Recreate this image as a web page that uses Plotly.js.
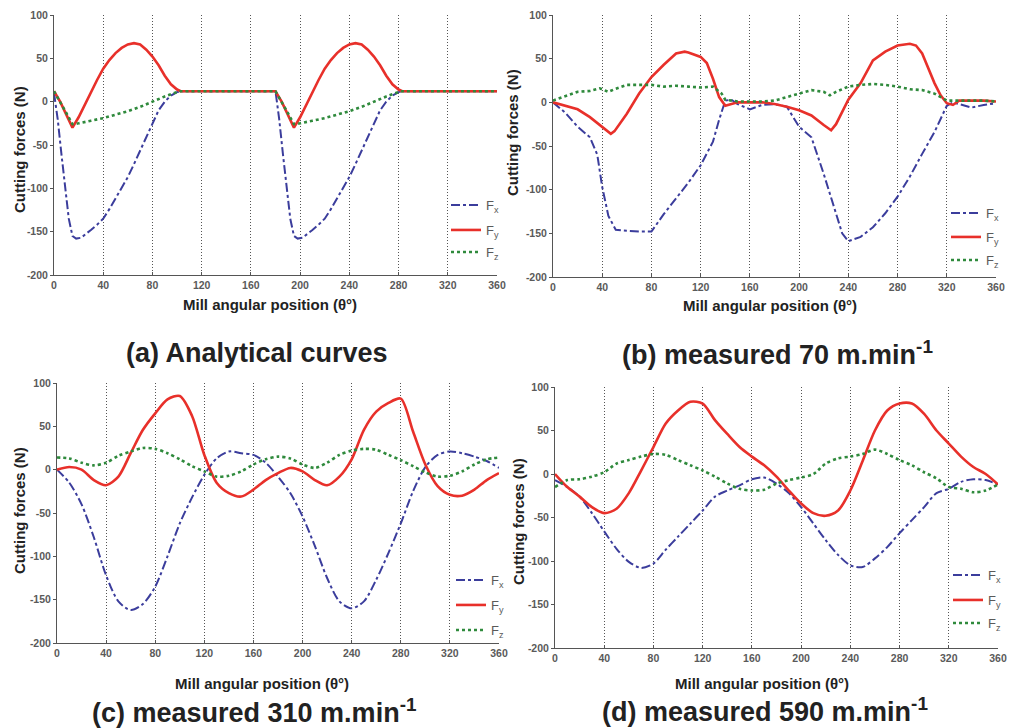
<!DOCTYPE html>
<html>
<head>
<meta charset="utf-8">
<script src="https://cdn.plot.ly/plotly-3.0.1.min.js"></script>
<style>
html,body{margin:0;padding:0;background:#fff;}
#chart{width:1011px;height:728px;}
</style>
</head>
<body>
<div id="chart"></div>
<script>
// ---------- DATA ----------
const panelCaptions = ["(a) Analytical curves", "(b) measured 70 m.min<sup>-1</sup>", "(c) measured 310 m.min<sup>-1</sup>", "(d) measured 590 m.min<sup>-1</sup>"];
const seriesNames = ["F<sub>x</sub>", "F<sub>y</sub>", "F<sub>z</sub>"];
const xTickVals = [0, 40, 80, 120, 160, 200, 240, 280, 320, 360];
const yTickVals = [-200, -150, -100, -50, 0, 50, 100];
const xTitle = "Mill angular position (θ°)";
const yTitle = "Cutting forces (N)";

// (a) analytical
const aFxAngle = [0,3,6,9,12,15,18,22,26,30,35,40,45,50,55,60,65,70,75,80,85,90,95,100,103,180,183,186,189,192,195,198,202,206,210,215,220,225,230,235,240,245,250,255,260,265,270,275,280,283,360];
const aFx = [10,-20,-60,-100,-135,-155,-158,-157,-153,-148,-142,-135,-124,-112,-100,-87,-72,-56,-40,-24,-10,0,7,11,12,12,-20,-60,-100,-135,-155,-158,-157,-153,-148,-142,-135,-124,-112,-100,-87,-72,-56,-40,-24,-10,0,7,11,12,12];
const aFyAngle = [0,5,10,15,20,25,30,35,40,45,50,55,60,65,70,75,80,85,90,95,100,103,180,185,190,195,200,205,210,215,220,225,230,235,240,245,250,255,260,265,270,275,280,283,360];
const aFy = [12,0,-15,-30,-18,-3,12,25,38,48,56,62,66,67.5,66,60,52,42,30,20,14,12,12,0,-15,-30,-18,-3,12,25,38,48,56,62,66,67.5,66,60,52,42,30,20,14,12,12];
const aFzAngle = [0,5,10,15,20,30,40,50,60,70,80,90,100,103,180,185,190,195,200,210,220,230,240,250,260,270,280,283,360];
const aFz = [12,0,-13,-26,-25,-22,-19,-15,-11,-6,0,6,11,12,12,0,-13,-26,-25,-22,-19,-15,-11,-6,0,6,11,12,12];

// (b) measured 70 m/min
const bFxAngle = [0,10,20,30,36,40,45,51,60,70,80,90,100,110,120,130,135,140,145,150,160,170,180,190,200,210,220,230,235,240,250,260,270,280,290,300,310,320,325,330,340,350,360];
const bFx = [0,-12,-28,-40,-60,-97,-130,-146,-147,-148,-148,-128,-110,-92,-72,-45,-20,2,3,-2,-8,-3,-2,-5,-28,-40,-82,-127,-150,-159,-154,-143,-127,-108,-85,-59,-34,-4,0,-2,-6,-3,-1];
const bFyAngle = [0,10,20,30,40,47,50,60,70,80,90,100,107,110,120,125,130,135,140,145,150,160,170,180,190,200,210,220,226,230,240,250,260,270,280,290,295,300,310,315,320,325,330,340,350,360];
const bFy = [0,-4,-8,-17,-28,-36,-33,-13,10,29,43,56,58,57,52,45,27,6,-4,-2,0,0,0,-2,-5,-9,-15,-26,-32,-25,3,22,48,58,65,67,65,56,22,8,-1,-3,2,2,2,1];
const bFzAngle = [0,10,20,30,38,45,50,60,70,80,90,100,110,120,130,137,140,150,160,170,180,190,200,210,220,225,230,240,250,260,270,280,290,300,310,320,330,340,350,360];
const bFz = [2,7,12,13,16,12,15,20,20,20,18,19,18,17,18,10,3,1,1,1,2,6,10,14,12,8,12,18,20,21,20,18,15,14,10,2,2,2,2,1];

// (c) measured 310 m/min  and (d) measured 590 m/min
const cdAngle = [0,10,20,30,40,50,60,70,80,90,100,110,120,130,140,150,160,170,180,190,200,210,220,230,240,250,260,270,280,290,300,310,320,330,340,350,360];
const cFx = [0,-15,-40,-78,-122,-152,-162,-155,-135,-100,-62,-32,-6,13,21,19,17,8,-8,-27,-54,-88,-125,-152,-160,-152,-127,-96,-62,-25,3,17,21,19,15,10,2];
const cFy = [0,3,0,-12,-18,-8,19,46,65,81,85,62,17,-15,-27,-31,-23,-12,-4,2,-2,-12,-18,-8,12,46,67,77,82,44,6,-19,-29,-30,-23,-12,-4];
const cFz = [14,13,8,5,8,16,21,25,24,19,12,4,-2,-8,-7,-2,6,12,15,13,6,2,8,17,22,24,23,17,11,4,-3,-8,-7,-2,6,12,14];
const dFx = [-7,-15,-26,-45,-66,-86,-101,-108,-103,-87,-72,-57,-42,-26,-19,-13,-6,-4,-11,-22,-38,-57,-76,-93,-105,-107,-97,-84,-68,-53,-38,-22,-17,-9,-6,-7,-12];
const dFy = [0,-15,-26,-38,-45,-40,-22,4,31,58,73,83,81,62,46,31,20,10,-3,-19,-34,-45,-48,-42,-19,15,50,73,81,81,69,50,35,20,8,0,-12];
const dFz = [-15,-7,-6,-3,2,12,16,20,23,22,16,10,4,-3,-11,-17,-19,-18,-11,-7,-4,0,12,18,20,23,28,23,16,10,2,-5,-15,-17,-21,-19,-12];

// ---------- STYLE ----------
const W = 1011, H = 728;
const px = v => v / W;
const py = v => 1 - v / H;
const FONT = "Liberation Sans, Arial, sans-serif";
const colors = ["#3b3d9c", "#e8302a", "#2f8a3c"];
const dashes = ["dashdot", "solid", "dot"];
const widths = [2, 2.6, 2.6];

// plot areas in pixels [left, right, top, bottom]
const areas = [
  [54, 497, 15, 275],
  [553, 996, 15, 277],
  [57, 499, 383, 643],
  [555, 998, 387, 648]
];
// legend entries: [left x, centre y of Fx, Fy, Fz]
const legendPos = [[446, 205, 230, 252], [946, 213, 237, 260], [451, 580, 605, 630], [948, 575, 600, 623]];
const yTitlePos = [[20, 150], [512, 133], [20, 511], [518, 522]];
const xTitlePos = [[270, 304], [770, 305], [262, 683], [762, 683]];
const captionPos = [[257, 353], [777, 353], [254, 711], [765, 710]];

const panelData = [
  [[aFxAngle, aFx], [aFyAngle, aFy], [aFzAngle, aFz]],
  [[bFxAngle, bFx], [bFyAngle, bFy], [bFzAngle, bFz]],
  [[cdAngle, cFx], [cdAngle, cFy], [cdAngle, cFz]],
  [[cdAngle, dFx], [cdAngle, dFy], [cdAngle, dFz]]
];

const traces = [];
const layout = {
  width: W, height: H,
  margin: {l: 0, r: 0, t: 0, b: 0},
  paper_bgcolor: "#fff", plot_bgcolor: "rgba(0,0,0,0)",
  font: {family: FONT, color: "#222"},
  showlegend: true,
  annotations: []
};

const tickFont = {family: FONT, size: 10.5, color: "#5a5a5a", weight: "bold"};

panelData.forEach((series, p) => {
  const k = p === 0 ? "" : String(p + 1);
  series.forEach((s, i) => {
    const n = p * 3 + i + 1;
    const legendKey = n === 1 ? "legend" : "legend" + n;
    traces.push({
      x: s[0], y: s[1], type: "scatter", mode: "lines",
      name: seriesNames[i],
      xaxis: "x" + k, yaxis: "y" + k,
      legend: legendKey, showlegend: true,
      line: {color: colors[i], dash: dashes[i], width: widths[i], shape: p >= 2 ? "spline" : "linear", smoothing: 0.8}
    });
    layout[legendKey] = {
      x: px(legendPos[p][0]), y: py(legendPos[p][i + 1]), xanchor: "left", yanchor: "middle",
      bgcolor: "rgba(0,0,0,0)", borderwidth: 0,
      font: {family: FONT, size: 13, color: "#5a5a5a"},
      itemwidth: 30, visible: true
    };
  });
  const a = areas[p];
  layout["xaxis" + k] = {
    domain: [px(a[0]), px(a[1])], anchor: "y" + k,
    range: [0, 360], tickvals: xTickVals, ticktext: xTickVals.map(String),
    showline: true, linecolor: "#555", linewidth: 1,
    ticks: "inside", ticklen: 3, tickcolor: "#555",
    showgrid: true, gridcolor: "#555", griddash: "1px,2px", gridwidth: 1,
    zeroline: false, fixedrange: true,
    tickfont: tickFont
  };
  layout["yaxis" + k] = {
    domain: [py(a[3]), py(a[2])], anchor: "x" + k,
    range: [-200, 100], tickvals: yTickVals, ticktext: yTickVals.map(String),
    showline: true, linecolor: "#555", linewidth: 1,
    ticks: "outside", ticklen: 3, tickcolor: "#555",
    showgrid: false, zeroline: false, fixedrange: true,
    tickfont: tickFont
  };
  layout.annotations.push({
    xref: "paper", yref: "paper", x: px(yTitlePos[p][0]), y: py(yTitlePos[p][1]),
    text: yTitle, showarrow: false, textangle: -90, xanchor: "center", yanchor: "middle",
    font: {family: FONT, size: 15, color: "#222", weight: "bold"}
  });
  layout.annotations.push({
    xref: "paper", yref: "paper", x: px(xTitlePos[p][0]), y: py(xTitlePos[p][1]),
    text: xTitle, showarrow: false, xanchor: "center", yanchor: "middle",
    font: {family: FONT, size: 15, color: "#222", weight: "bold"}
  });
  layout.annotations.push({
    xref: "paper", yref: "paper", x: px(captionPos[p][0]), y: py(captionPos[p][1]),
    text: panelCaptions[p], showarrow: false, xanchor: "center", yanchor: "middle",
    font: {family: FONT, size: 27, color: "#222", weight: "bold"}
  });
});

Plotly.newPlot("chart", traces, layout, {displayModeBar: false, staticPlot: true});
</script>
</body>
</html>
